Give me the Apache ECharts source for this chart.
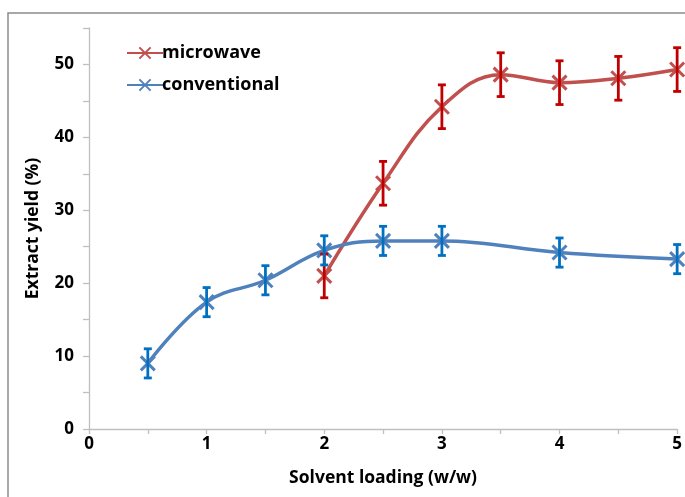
<!DOCTYPE html>
<html>
<head>
<meta charset="utf-8">
<script src="https://cdn.jsdelivr.net/npm/echarts@6/dist/echarts.min.js"></script>
<style>
  html, body { margin: 0; padding: 0; background: #fff; }
  #chart { width: 685px; height: 497px; }
</style>
</head>
<body>
<div id="chart"></div>
<script>
// data
const microX = [2, 2.5, 3, 3.5, 4, 4.5, 5];
const microY = [21.0, 33.7, 44.2, 48.6, 47.5, 48.1, 49.3];
const microErr = [3.0, 3.0, 3.0, 3.0, 3.0, 3.0, 3.0];

const convX = [0.5, 1, 1.5, 2, 2.5, 3, 4, 5];
const convY = [9.0, 17.4, 20.4, 24.5, 25.8, 25.8, 24.2, 23.3];
const convErr = [2.0, 2.0, 2.0, 2.0, 2.0, 2.0, 2.0, 2.0];

const font = '"Open Sans", "DejaVu Sans", sans-serif';
const xMark = 'path://M0,0L10,10M10,0L0,10';

function pts(xs, ys) {
  return xs.map((x, i) => [x, ys[i]]);
}
function errs(xs, ys, es) {
  return xs.map((x, i) => [x, ys[i] - es[i], ys[i] + es[i]]);
}

function errorBar(color) {
  return function (params, api) {
    const lo = api.coord([api.value(0), api.value(1)]);
    const hi = api.coord([api.value(0), api.value(2)]);
    const cap = 4;
    const style = { stroke: color, lineWidth: 2.8, fill: null };
    return {
      type: 'group',
      children: [
        { type: 'line', shape: { x1: lo[0], y1: lo[1], x2: hi[0], y2: hi[1] }, style: style },
        { type: 'line', shape: { x1: lo[0] - cap, y1: lo[1], x2: lo[0] + cap, y2: lo[1] }, style: style },
        { type: 'line', shape: { x1: hi[0] - cap, y1: hi[1], x2: hi[0] + cap, y2: hi[1] }, style: style }
      ]
    };
  };
}

const myChart = echarts.init(document.getElementById('chart'));

const option = {
  animation: false,
  graphic: [
    {
      type: 'rect',
      shape: { x: 8, y: 13, width: 720, height: 520 },
      style: { fill: null, stroke: '#8c8c8c', lineWidth: 1.5 },
      silent: true
    }
  ],
  grid: { left: 89, right: 6, top: 28, bottom: 68 },
  legend: {
    left: 121,
    top: 39,
    orient: 'vertical',
    itemWidth: 36,
    itemHeight: 14,
    itemGap: 14,
    data: ['microwave', 'conventional'],
    textStyle: { fontFamily: font, fontWeight: 'bold', fontSize: 18, color: '#000', padding: [0, 0, 0, -6] }
  },
  xAxis: {
    type: 'value',
    min: 0,
    max: 5,
    interval: 0.5,
    name: 'Solvent loading (w/w)',
    nameLocation: 'middle',
    nameGap: 40,
    nameTextStyle: { fontFamily: font, fontWeight: 'bold', fontSize: 17.5, color: '#000' },
    axisLine: { lineStyle: { color: '#bfbfbf', width: 1.3 } },
    axisTick: { show: true, length: 5, lineStyle: { color: '#bfbfbf', width: 1.3 } },
    axisLabel: {
      margin: 7,
      fontFamily: font, fontWeight: 'bold', fontSize: 17, color: '#000',
      formatter: v => (Math.abs(v - Math.round(v)) < 1e-6 ? String(Math.round(v)) : '')
    },
    splitLine: { show: false }
  },
  yAxis: {
    type: 'value',
    min: 0,
    max: 55,
    interval: 5,
    name: 'Extract yield (%)',
    nameLocation: 'middle',
    nameGap: 47,
    nameTextStyle: { fontFamily: font, fontWeight: 'bold', fontSize: 17.5, color: '#000' },
    axisLine: { show: true, lineStyle: { color: '#bfbfbf', width: 1.3 } },
    axisTick: { show: true, length: 6, lineStyle: { color: '#bfbfbf', width: 1.3 } },
    axisLabel: {
      margin: 15,
      fontFamily: font, fontWeight: 'bold', fontSize: 17, color: '#000',
      formatter: v => (v % 10 === 0 ? String(v) : '')
    },
    splitLine: { show: false }
  },
  series: [
    {
      name: 'microwave',
      type: 'line',
      smooth: 0.4,
      data: pts(microX, microY),
      symbol: xMark,
      symbolSize: 14,
      showAllSymbol: true,
      color: '#c0504d',
      lineStyle: { color: '#c0504d', width: 3.5 },
      itemStyle: { color: '#c0504d', borderColor: '#c0504d', borderWidth: 3 },
      z: 3
    },
    {
      name: 'conventional',
      type: 'line',
      smooth: 0.4,
      data: pts(convX, convY),
      symbol: xMark,
      symbolSize: 14,
      showAllSymbol: true,
      color: '#4f81bd',
      lineStyle: { color: '#4f81bd', width: 3.5 },
      itemStyle: { color: '#4f81bd', borderColor: '#4f81bd', borderWidth: 3 },
      z: 3
    },
    {
      type: 'custom',
      name: 'microwave-err',
      renderItem: errorBar('#c00000'),
      data: errs(microX, microY, microErr),
      encode: { x: 0, y: [1, 2] },
      z: 4,
      silent: true
    },
    {
      type: 'custom',
      name: 'conventional-err',
      renderItem: errorBar('#0070c0'),
      data: errs(convX, convY, convErr),
      encode: { x: 0, y: [1, 2] },
      z: 4,
      silent: true
    }
  ]
};

myChart.setOption(option);
</script>
</body>
</html>
